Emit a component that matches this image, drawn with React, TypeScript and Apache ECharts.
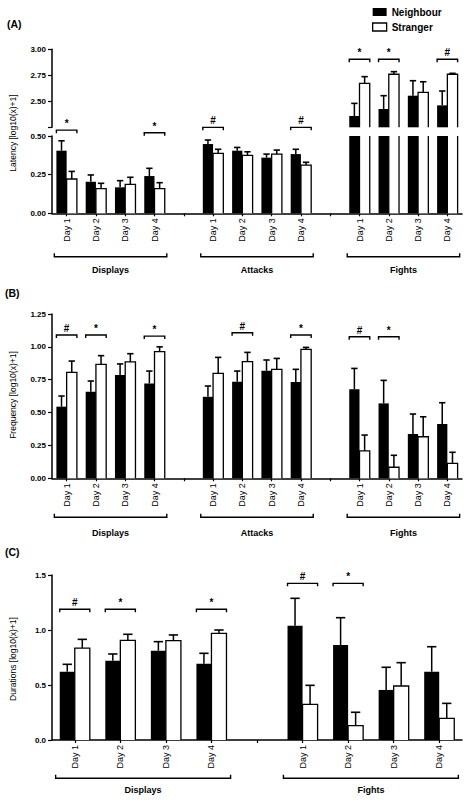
import React, { useEffect, useRef } from 'react';
import * as echarts from 'echarts';

// ---------- categories ----------
const categoriesAB = ['Day 1', 'Day 2', 'Day 3', 'Day 4', '', 'Day 1', 'Day 2', 'Day 3', 'Day 4', '', 'Day 1', 'Day 2', 'Day 3', 'Day 4'];
const categoriesC = ['Day 1', 'Day 2', 'Day 3', 'Day 4', '', 'Day 1', 'Day 2', 'Day 3', 'Day 4'];
const groupsAB = ['Displays', 'Attacks', 'Fights'];
const groupStartAB = [0, 5, 10];
const groupEndAB = [3, 8, 13];
const groupsC = ['Displays', 'Fights'];
const groupStartC = [0, 5];
const groupEndC = [3, 8];
const seriesNames = ['Neighbour', 'Stranger'];
const sigSymbols = ['*', '#'];

// ---------- (A) Latency ----------
const latencyNeighbour = [0.405, 0.204, 0.168, 0.241, null, 0.448, 0.405, 0.36, 0.383, null, 2.359, 2.426, 2.554, 2.461];
const latencyNeighbourErr = [0.064, 0.044, 0.043, 0.05, null, 0.026, 0.021, 0.023, 0.031, null, 0.121, 0.128, 0.144, 0.138];
const latencyStranger = [0.222, 0.159, 0.187, 0.159, null, 0.388, 0.375, 0.383, 0.312, null, 2.673, 2.76, 2.586, 2.76];
const latencyStrangerErr = [0.049, 0.035, 0.046, 0.039, null, 0.026, 0.023, 0.026, 0.018, null, 0.064, 0.025, 0.102, 0.009];
const latencyLowRange = [0, 0.5, 0.25];
const latencyHighRange = [2.25, 3.0, 0.25];
const latencySigLowCat = [0, 3, 5, 8];
const latencySigLowY = [0.538, 0.521, 0.556, 0.556];
const latencySigLowSym = [0, 0, 1, 1];
const latencySigHighCat = [10, 11, 13];
const latencySigHighY = [2.905, 2.905, 2.905];
const latencySigHighSym = [0, 0, 1];

// ---------- (B) Frequency ----------
const freqNeighbour = [0.545, 0.659, 0.785, 0.722, null, 0.62, 0.735, 0.818, 0.732, null, 0.677, 0.57, 0.337, 0.413];
const freqNeighbourErr = [0.081, 0.081, 0.085, 0.094, null, 0.082, 0.081, 0.082, 0.097, null, 0.159, 0.175, 0.152, 0.162];
const freqStranger = [0.806, 0.867, 0.886, 0.963, null, 0.798, 0.887, 0.829, 0.981, null, 0.208, 0.084, 0.316, 0.114];
const freqStrangerErr = [0.086, 0.066, 0.062, 0.037, null, 0.122, 0.071, 0.083, 0.015, null, 0.121, 0.091, 0.152, 0.084];
const freqRange = [0, 1.25, 0.25];
const freqSigCat = [0, 1, 3, 6, 8, 10, 11];
const freqSigY = [1.09, 1.09, 1.082, 1.107, 1.09, 1.077, 1.077];
const freqSigSym = [1, 0, 0, 1, 0, 1, 0];

// ---------- (C) Durations ----------
const durNeighbour = [0.621, 0.721, 0.812, 0.694, null, 1.039, 0.864, 0.455, 0.621];
const durNeighbourErr = [0.067, 0.061, 0.082, 0.094, null, 0.249, 0.248, 0.206, 0.227];
const durStranger = [0.836, 0.906, 0.903, 0.97, null, 0.324, 0.13, 0.491, 0.197];
const durStrangerErr = [0.079, 0.055, 0.052, 0.03, null, 0.173, 0.122, 0.212, 0.136];
const durRange = [0, 1.5, 0.5];
const durSigCat = [0, 1, 3, 5, 6];
const durSigY = [1.188, 1.188, 1.188, 1.424, 1.424];
const durSigSym = [1, 0, 0, 1, 0];

const FONT = '"Liberation Sans", Arial, Helvetica, sans-serif';
const INK = '#000';

const ln = (x1: number, y1: number, x2: number, y2: number, w = 1.4) => ({
  type: 'line',
  shape: { x1, y1, x2, y2 },
  style: { stroke: INK, lineWidth: w },
});

function barRender(side: number, frac: number, filled: boolean) {
  return (params: any, api: any) => {
    const cat = api.value(0) as number;
    const v = api.value(1) as number;
    const e = api.value(2) as number;
    const cs = params.coordSys as any;
    const band = (api.size([1, 0]) as number[])[0];
    const bw = band * frac;
    const base = api.coord([cat, 0]);
    const top = api.coord([cat, v]);
    const et = api.coord([cat, v + e]);
    const gTop = cs.y;
    const gBot = cs.y + cs.height;
    const cx = base[0] + (side * bw) / 2;
    const y0 = Math.min(base[1], gBot);
    const y1 = Math.max(top[1], gTop);
    const children: any[] = [];
    if (y1 < y0) {
      const l = cx - bw / 2;
      const r = cx + bw / 2;
      const clipped = top[1] < gTop;
      children.push({
        type: 'rect',
        shape: { x: l, y: y1, width: bw, height: y0 - y1 },
        style: { fill: filled ? INK : '#fff' },
      });
      if (!filled) {
        if (clipped) {
          children.push(ln(l, y0, l, y1, 1.3), ln(r, y0, r, y1, 1.3));
        } else {
          children.push({
            type: 'polyline',
            shape: { points: [[l, y0], [l, y1], [r, y1], [r, y0]] },
            style: { stroke: INK, lineWidth: 1.3, fill: null },
          });
        }
      }
      if (!clipped) {
        const cap = bw * 0.62;
        children.push(ln(cx, top[1], cx, et[1], 1.5), ln(cx - cap / 2, et[1], cx + cap / 2, et[1], 1.6));
      }
    }
    return { type: 'group', children };
  };
}

function sigRender(frac: number) {
  return (params: any, api: any) => {
    const cat = api.value(0) as number;
    const yv = api.value(1) as number;
    const si = api.value(2) as number;
    const band = (api.size([1, 0]) as number[])[0];
    const bw = band * frac;
    const p = api.coord([cat, yv]);
    const l = p[0] - bw;
    const r = p[0] + bw;
    const y = p[1];
    return {
      type: 'group',
      children: [
        {
          type: 'polyline',
          shape: { points: [[l, y + 3], [l, y], [r, y], [r, y + 3]] },
          style: { stroke: INK, lineWidth: 1.4, fill: null },
        },
        {
          type: 'text',
          x: p[0],
          y: y - 1.5,
          style: {
            text: sigSymbols[si],
            align: 'center',
            verticalAlign: 'bottom',
            fontSize: 10,
            fontWeight: 'bold',
            fontFamily: FONT,
            fill: INK,
          },
        },
      ],
    };
  };
}

function groupRender(names: string[], offBracket: number, offLabel: number) {
  return (params: any, api: any) => {
    const s = api.value(0) as number;
    const e = api.value(2) as number;
    const gi = api.value(3) as number;
    const cs = params.coordSys as any;
    const band = (api.size([1, 0]) as number[])[0];
    const xs = api.coord([s, 0])[0] - band * 0.42;
    const xe = api.coord([e, 0])[0] + band * 0.42;
    const bottom = cs.y + cs.height;
    const yb = bottom + offBracket;
    return {
      type: 'group',
      children: [
        {
          type: 'polyline',
          shape: { points: [[xs, yb - 3.5], [xs, yb], [xe, yb], [xe, yb - 3.5]] },
          style: { stroke: INK, lineWidth: 1.4, fill: null },
        },
        {
          type: 'text',
          x: (xs + xe) / 2,
          y: bottom + offLabel,
          style: {
            text: names[gi],
            align: 'center',
            verticalAlign: 'middle',
            fontSize: 9,
            fontWeight: 'bold',
            fontFamily: FONT,
            fill: INK,
          },
        },
      ],
    };
  };
}

const pack = (vals: (number | null)[], errs: (number | null)[]) =>
  vals.map((v, i) => (v == null ? null : [i, v, errs[i] as number])).filter((d) => d !== null);

const packSig = (cats: number[], ys: number[], syms: number[]) => cats.map((c, i) => [c, ys[i], syms[i]]);

const packGroups = (starts: number[], ends: number[]) => starts.map((s, i) => [s, 0, ends[i], i]);

function makeXAxis(gridIndex: number, data: string[], visible: boolean) {
  return {
    type: 'category',
    gridIndex,
    data,
    boundaryGap: true,
    show: visible,
    axisLine: { show: visible, lineStyle: { color: INK, width: 1.5 } },
    axisTick: { show: visible, alignWithLabel: true, interval: 0, length: 3, lineStyle: { color: INK, width: 1.2 } },
    axisLabel: {
      show: visible,
      interval: 0,
      rotate: 90,
      margin: 5,
      fontSize: 9,
      fontFamily: FONT,
      color: INK,
    },
    splitLine: { show: false },
  };
}

function makeYAxis(gridIndex: number, range: number[], digits: number, hideMin = false) {
  return {
    type: 'value',
    gridIndex,
    min: range[0],
    max: range[1],
    interval: range[2],
    axisLine: { show: true, lineStyle: { color: INK, width: 1.5 } },
    axisTick: { show: true, length: 4, lineStyle: { color: INK, width: 1.2 } },
    axisLabel: {
      margin: 6,
      fontSize: 8,
      fontWeight: 'bold',
      fontFamily: FONT,
      color: INK,
      formatter: (v: number) => (hideMin && Math.abs(v - range[0]) < 1e-9 ? '' : v.toFixed(digits)),
    },
    splitLine: { show: false },
  };
}

function barPair(idx: number, nVals: any[], nErr: any[], sVals: any[], sErr: any[], frac: number) {
  return [
    {
      type: 'custom',
      name: seriesNames[0],
      xAxisIndex: idx,
      yAxisIndex: idx,
      silent: true,
      itemStyle: { color: INK },
      renderItem: barRender(-1, frac, true),
      data: pack(nVals, nErr),
    },
    {
      type: 'custom',
      name: seriesNames[1],
      xAxisIndex: idx,
      yAxisIndex: idx,
      silent: true,
      itemStyle: { color: '#fff', borderColor: INK, borderWidth: 1.3 },
      renderItem: barRender(1, frac, false),
      data: pack(sVals, sErr),
    },
  ];
}

function sigSeries(idx: number, data: any[], frac: number) {
  return {
    type: 'custom',
    xAxisIndex: idx,
    yAxisIndex: idx,
    silent: true,
    renderItem: sigRender(frac),
    data,
  };
}

function groupSeries(idx: number, names: string[], data: any[], offB: number, offL: number) {
  return {
    type: 'custom',
    xAxisIndex: idx,
    yAxisIndex: idx,
    silent: true,
    renderItem: groupRender(names, offB, offL),
    data,
  };
}

const axisTitle = (text: string, x: number, y: number) => ({
  type: 'text',
  x,
  y,
  rotation: Math.PI / 2,
  style: { text, align: 'center', verticalAlign: 'middle', fontSize: 8.5, fontFamily: FONT, fill: INK },
});

const panelLabel = (text: string, x: number, y: number) => ({
  type: 'text',
  x,
  y,
  style: { text, align: 'left', verticalAlign: 'middle', fontSize: 10.5, fontWeight: 'bold', fontFamily: FONT, fill: INK },
});

export default function App() {
  const ref = useRef<HTMLDivElement>(null);
  useEffect(() => {
    if (!ref.current) return;
    const chart = echarts.init(ref.current, undefined, { renderer: 'svg' });
    const fracAB = 0.35;
    const fracC = 0.33;
    const option: any = {
      animation: false,
      backgroundColor: '#fff',
      legend: {
        orient: 'vertical',
        left: 367,
        top: 1,
        itemWidth: 14,
        itemHeight: 8,
        itemGap: 3,
        selectedMode: false,
        textStyle: { fontSize: 10, fontWeight: 'bold', fontFamily: FONT, color: INK, lineHeight: 12 },
        data: [
          { name: seriesNames[0], icon: 'rect', itemStyle: { color: INK, borderWidth: 0 } },
          { name: seriesNames[1], icon: 'rect', itemStyle: { color: '#fff', borderColor: INK, borderWidth: 1.3 } },
        ],
      },
      grid: [
        { left: 52, top: 49.3, width: 410, height: 78, containLabel: false },
        { left: 52, top: 136, width: 410, height: 77.3, containLabel: false },
        { left: 52, top: 314, width: 410, height: 164.3, containLabel: false },
        { left: 52, top: 575, width: 410, height: 165, containLabel: false },
      ],
      xAxis: [
        makeXAxis(0, categoriesAB, false),
        makeXAxis(1, categoriesAB, true),
        makeXAxis(2, categoriesAB, true),
        makeXAxis(3, categoriesC, true),
      ],
      yAxis: [
        makeYAxis(0, latencyHighRange, 2, true),
        makeYAxis(1, latencyLowRange, 2),
        makeYAxis(2, freqRange, 2),
        makeYAxis(3, durRange, 1),
      ],
      graphic: [
        panelLabel('(A)', 7, 24),
        panelLabel('(B)', 5, 292.5),
        panelLabel('(C)', 5, 552),
        axisTitle('Latency [log10(x)+1]', 13, 133),
        axisTitle('Frequency [log10(x)+1]', 13, 395),
        axisTitle('Durations [log10(x)+1]', 13, 659),
      ],
      series: [
        ...barPair(0, latencyNeighbour, latencyNeighbourErr, latencyStranger, latencyStrangerErr, fracAB),
        ...barPair(1, latencyNeighbour, latencyNeighbourErr, latencyStranger, latencyStrangerErr, fracAB),
        ...barPair(2, freqNeighbour, freqNeighbourErr, freqStranger, freqStrangerErr, fracAB),
        ...barPair(3, durNeighbour, durNeighbourErr, durStranger, durStrangerErr, fracC),
        sigSeries(0, packSig(latencySigHighCat, latencySigHighY, latencySigHighSym), fracAB),
        sigSeries(1, packSig(latencySigLowCat, latencySigLowY, latencySigLowSym), fracAB),
        sigSeries(2, packSig(freqSigCat, freqSigY, freqSigSym), fracAB),
        sigSeries(3, packSig(durSigCat, durSigY, durSigSym), fracC),
        groupSeries(1, groupsAB, packGroups(groupStartAB, groupEndAB), 43.4, 57),
        groupSeries(2, groupsAB, packGroups(groupStartAB, groupEndAB), 39, 54.7),
        groupSeries(3, groupsC, packGroups(groupStartC, groupEndC), 38.3, 50),
      ],
    };
    chart.setOption(option);
    return () => chart.dispose();
  }, []);
  return (
    <div
      ref={ref}
      style={{ position: 'absolute', left: 0, top: 0, width: 468, height: 804, background: '#fff' }}
    />
  );
}
